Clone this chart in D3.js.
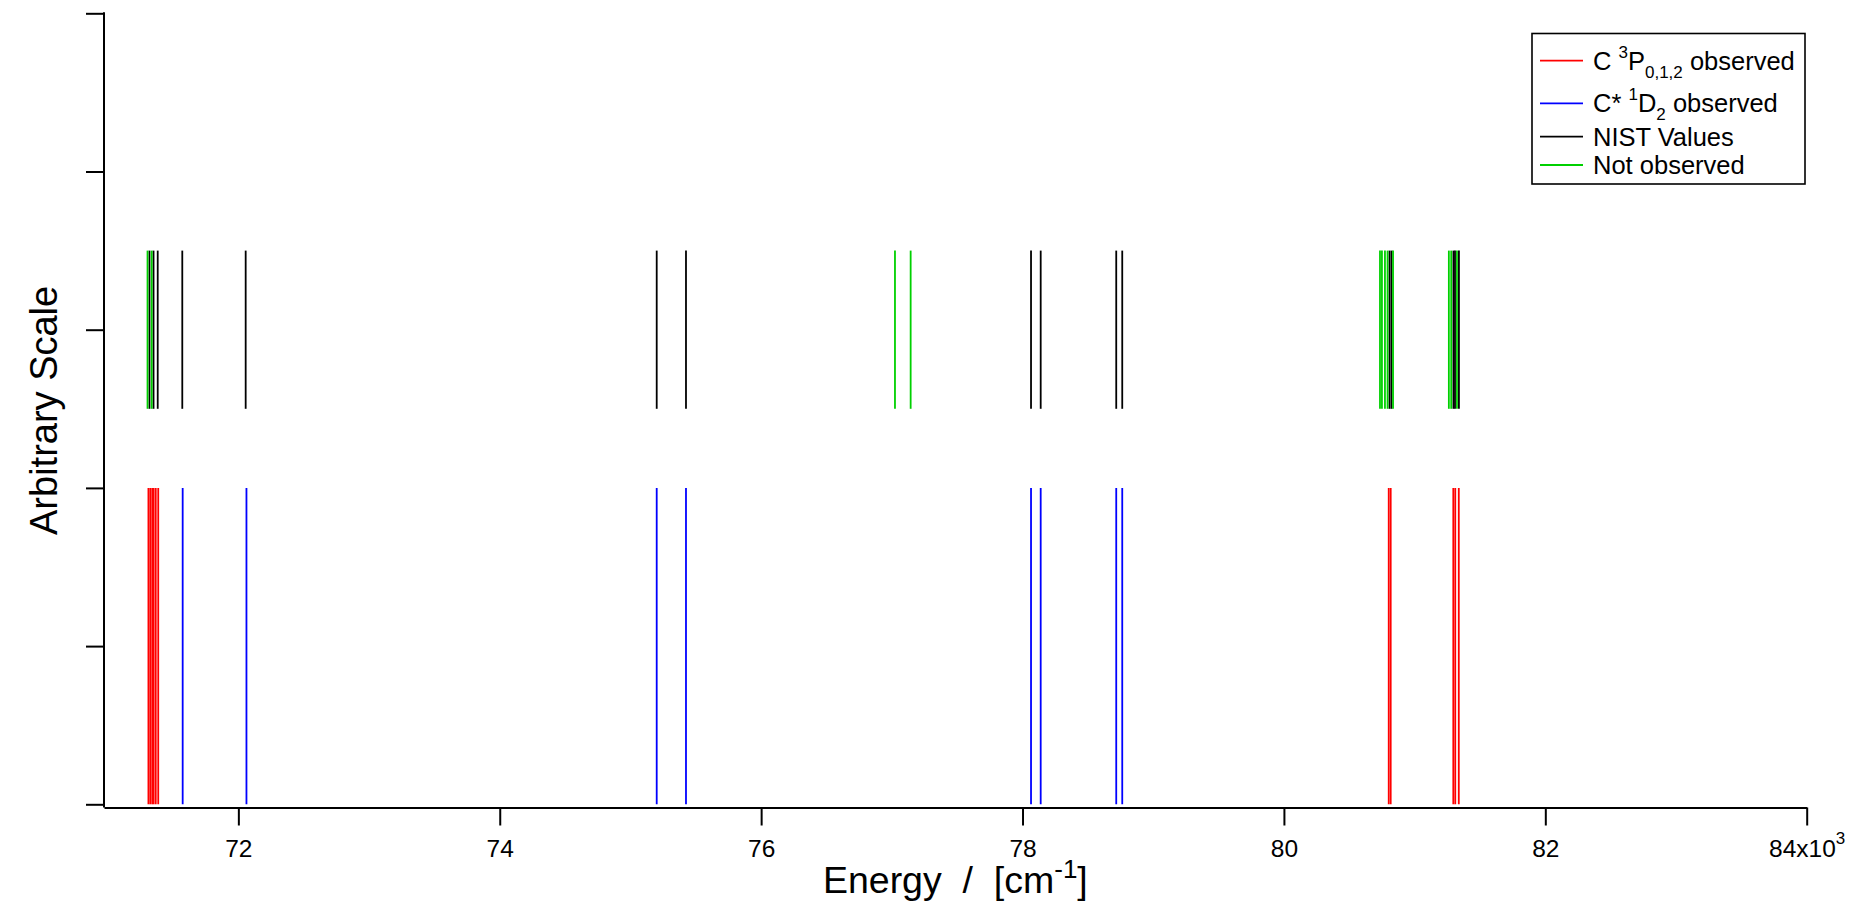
<!DOCTYPE html>
<html>
<head>
<meta charset="utf-8">
<script src="https://cdn.jsdelivr.net/npm/d3@7"></script>
<style>
  html, body { margin: 0; padding: 0; background: #fff; }
  svg { display: block; font-family: "Liberation Sans", Arial, Helvetica, sans-serif; }
</style>
</head>
<body>
<svg id="chart" width="1850" height="903"></svg>
<script>
// Transition energies in units of 10^3 cm^-1
const cGroundObserved = [71.312, 71.326, 71.341, 71.352, 71.368, 71.387, 80.802, 80.817, 81.296, 81.311, 81.338];
const cExcitedObserved = [71.574, 72.062, 75.201, 75.425, 78.065, 78.139, 78.717, 78.763];
const nistValues = [71.320, 71.351, 71.383, 71.571, 72.056, 75.201, 75.425, 78.065, 78.139, 78.717, 78.763, 80.808, 80.823, 81.297, 81.309, 81.339];
const notObserved = [71.305, 71.337, 77.024, 77.144, 80.735, 80.750, 80.773, 80.793, 80.835, 81.262, 81.280, 81.324];

// Bottom axis ticks
const xTicks = [72, 74, 76, 78, 80, 82, 84];
const xTickLabels = ["72", "74", "76", "78", "80", "82", "84x10"];
// Left axis ticks (no labels)
const yTicks = [0, 1, 2, 3, 4, 5];

// Vertical extent of each group of sticks on the arbitrary scale
const observedSpan = [0, 2];
const referenceSpan = [2.5, 3.5];

const colors = { ground: "#ff0000", excited: "#0000ff", nist: "#000000", notObs: "#00d000" };

const svg = d3.select("#chart");

const x = d3.scaleLinear().domain([70.972, 84]).range([104, 1806.7]);
const y = d3.scaleLinear().domain([0, 5]).range([804.3, 13.3]);
const xAxisY = 807.5;

// Sticks
function sticks(data, span, color, cls) {
  svg.append("g").attr("class", cls)
    .selectAll("line").data(data).join("line")
    .attr("x1", d => x(d)).attr("x2", d => x(d))
    .attr("y1", y(span[0])).attr("y2", y(span[1]))
    .attr("stroke", color).attr("stroke-width", 1.8);
}
sticks(nistValues, referenceSpan, colors.nist, "nist");
sticks(notObserved, referenceSpan, colors.notObs, "not-observed");
sticks(cGroundObserved, observedSpan, colors.ground, "ground");
sticks(cExcitedObserved, observedSpan, colors.excited, "excited");

// Bottom axis
const xAxis = d3.axisBottom(x)
  .tickValues(xTicks)
  .tickSize(18)
  .tickPadding(14)
  .tickSizeOuter(0)
  .tickFormat((d, i) => xTickLabels[i]);
const gx = svg.append("g").attr("transform", `translate(0,${xAxisY})`).call(xAxis);
gx.select(".domain").attr("stroke", "#000").attr("stroke-width", 2);
gx.selectAll(".tick line").attr("stroke", "#000").attr("stroke-width", 2);
gx.selectAll(".tick text").attr("fill", "#000").attr("font-size", 24.5)
  .attr("font-family", "Liberation Sans, Arial, sans-serif");
gx.selectAll(".tick text").filter(d => d === 84)
  .append("tspan").attr("dy", -13).attr("font-size", 17).text("3");

// Left axis (ticks outward, no labels)
const yAxis = d3.axisLeft(y).tickValues(yTicks).tickSize(18).tickSizeOuter(0).tickFormat("");
const gy = svg.append("g").attr("transform", "translate(104,0)").call(yAxis);
gy.select(".domain").remove();
gy.selectAll(".tick line").attr("stroke", "#000").attr("stroke-width", 2);
gy.append("line").attr("x1", 0).attr("x2", 0).attr("y1", y(5) - 1).attr("y2", xAxisY)
  .attr("stroke", "#000").attr("stroke-width", 2);

// Axis titles
const xt = svg.append("text").attr("x", (x.range()[0] + x.range()[1]) / 2).attr("y", 893)
  .attr("text-anchor", "middle").attr("font-size", 37.5).attr("fill", "#000")
  .attr("xml:space", "preserve");
xt.append("tspan").text("Energy  /  [cm");
xt.append("tspan").attr("dy", -15).attr("font-size", 26).text("-1");
xt.append("tspan").attr("dy", 15).text("]");

svg.append("text")
  .attr("transform", `translate(57,${(y(5) + xAxisY) / 2}) rotate(-90)`)
  .attr("text-anchor", "middle").attr("font-size", 38).attr("fill", "#000")
  .text("Arbitrary Scale");

// Legend
const lg = svg.append("g").attr("class", "legend");
lg.append("rect").attr("x", 1532).attr("y", 33.5).attr("width", 273).attr("height", 150.5)
  .attr("fill", "#fff").attr("stroke", "#000").attr("stroke-width", 1.6);

const legendRows = [
  { color: colors.ground, lineY: 60.7, baseY: 70, parts: [["C ", 0], ["3", 1], ["P", 0], ["0,1,2", -1], [" observed", 0]] },
  { color: colors.excited, lineY: 103.3, baseY: 112, parts: [["C* ", 0], ["1", 1], ["D", 0], ["2", -1], [" observed", 0]] },
  { color: colors.nist, lineY: 136.7, baseY: 146, parts: [["NIST Values", 0]] },
  { color: colors.notObs, lineY: 165, baseY: 174, parts: [["Not observed", 0]] }
];
legendRows.forEach(r => {
  lg.append("line").attr("x1", 1540).attr("x2", 1583).attr("y1", r.lineY).attr("y2", r.lineY)
    .attr("stroke", r.color).attr("stroke-width", 1.8);
  const t = lg.append("text").attr("x", 1593).attr("y", r.baseY).attr("font-size", 25.5)
    .attr("fill", "#000").attr("xml:space", "preserve");
  let shift = 0;
  r.parts.forEach(([s, level]) => {
    const target = level === 1 ? -12 : level === -1 ? 8 : 0;
    t.append("tspan").attr("dy", target - shift)
      .attr("font-size", level === 0 ? 25.5 : 17).text(s);
    shift = target;
  });
});
</script>
</body>
</html>
